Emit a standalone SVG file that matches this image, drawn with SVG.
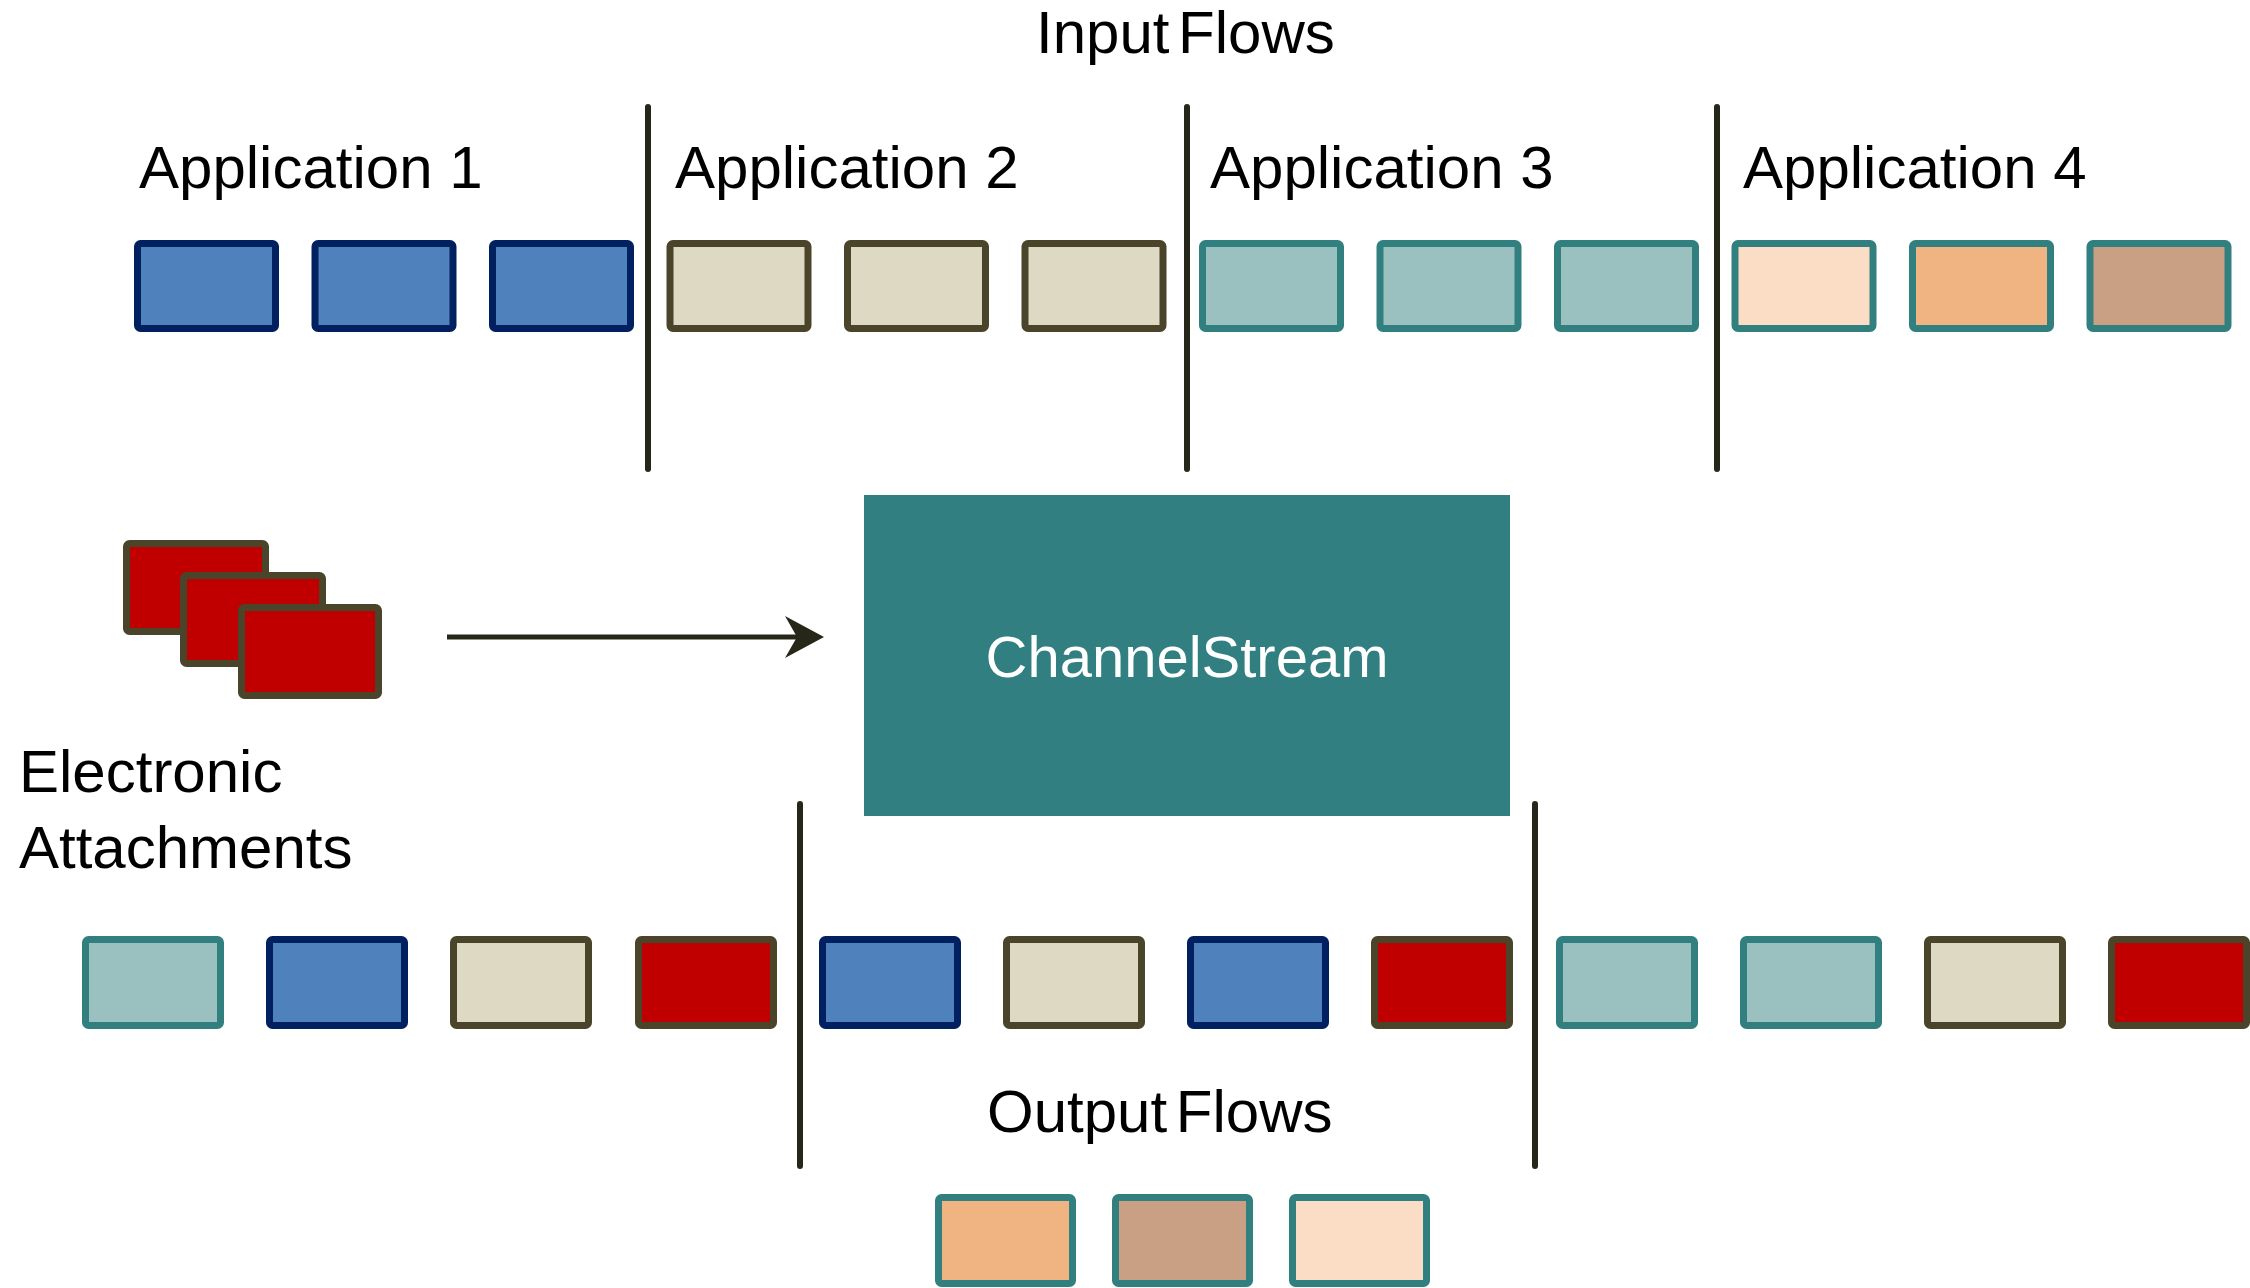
<svg xmlns="http://www.w3.org/2000/svg" width="2250" height="1288" viewBox="0 0 2250 1288">
<style>
text{font-family:"Liberation Sans",Arial,sans-serif;font-size:60px;fill:#000}
.tight{word-spacing:-8px}
.b{stroke-width:7;rx:3}
.blue{fill:#4F81BD;stroke:#002060}
.tan{fill:#DDD9C3;stroke:#4A452A}
.teal{fill:#9BC0C0;stroke:#31807F}
.peach{fill:#FADDC4;stroke:#31807F}
.orange{fill:#F0B482;stroke:#31807F}
.brown{fill:#C9A083;stroke:#31807F}
.red{fill:#C00000;stroke:#4A452A}
.div{stroke:#262619;stroke-width:6;stroke-linecap:round;fill:none}
</style>
<rect width="2250" height="1288" fill="#fff"/>
<g id="labels">
<text class="tight" x="1036" y="53">Input Flows</text>
<text x="139" y="188">Application 1</text>
<text x="675" y="188">Application 2</text>
<text x="1210" y="188">Application 3</text>
<text x="1743" y="188">Application 4</text>
<text x="19" y="792">Electronic</text>
<text x="19" y="868">Attachments</text>
<text class="tight" x="987" y="1132">Output Flows</text>
</g>
<g id="dividers">
<line class="div" x1="648" y1="107" x2="648" y2="469"/>
<line class="div" x1="1187" y1="107" x2="1187" y2="469"/>
<line class="div" x1="1717" y1="107" x2="1717" y2="469"/>
<line class="div" x1="800" y1="804" x2="800" y2="1166"/>
<line class="div" x1="1535" y1="804" x2="1535" y2="1166"/>
</g>
<g id="input-flows">
<rect class="b blue" x="137.5" y="243.5" width="138" height="85"/>
<rect class="b blue" x="315" y="243.5" width="138" height="85"/>
<rect class="b blue" x="492.5" y="243.5" width="138" height="85"/>
<rect class="b tan" x="670" y="243.5" width="138" height="85"/>
<rect class="b tan" x="847.5" y="243.5" width="138" height="85"/>
<rect class="b tan" x="1025" y="243.5" width="138" height="85"/>
<rect class="b teal" x="1202.5" y="243.5" width="138" height="85"/>
<rect class="b teal" x="1380" y="243.5" width="138" height="85"/>
<rect class="b teal" x="1557.5" y="243.5" width="138" height="85"/>
<rect class="b peach" x="1735" y="243.5" width="138" height="85"/>
<rect class="b orange" x="1912.5" y="243.5" width="138" height="85"/>
<rect class="b brown" x="2090" y="243.5" width="138" height="85"/>
</g>
<g id="electronic-attachments">
<rect class="b red" x="126.5" y="543.5" width="139" height="88"/>
<rect class="b red" x="183.5" y="575.5" width="139" height="88"/>
<rect class="b red" x="241.5" y="607.5" width="137" height="88"/>
</g>
<g id="channelstream">
<rect x="864" y="495" width="646" height="321" fill="#317F81"/>
<text x="1187" y="677" text-anchor="middle" style="fill:#fff;font-size:58px">ChannelStream</text>
</g>
<g id="output-flows">
<rect class="b teal" x="85.5" y="939.5" width="135" height="86"/>
<rect class="b blue" x="269.5" y="939.5" width="135" height="86"/>
<rect class="b tan" x="453.5" y="939.5" width="135" height="86"/>
<rect class="b red" x="638.5" y="939.5" width="135" height="86"/>
<rect class="b blue" x="822.5" y="939.5" width="135" height="86"/>
<rect class="b tan" x="1006.5" y="939.5" width="135" height="86"/>
<rect class="b blue" x="1190.5" y="939.5" width="135" height="86"/>
<rect class="b red" x="1374.5" y="939.5" width="135" height="86"/>
<rect class="b teal" x="1559.5" y="939.5" width="135" height="86"/>
<rect class="b teal" x="1743.5" y="939.5" width="135" height="86"/>
<rect class="b tan" x="1927.5" y="939.5" width="135" height="86"/>
<rect class="b red" x="2111.5" y="939.5" width="135" height="86"/>
</g>
<g id="output-flows-2">
<rect class="b orange" x="938.5" y="1197.5" width="134" height="86"/>
<rect class="b brown" x="1115.5" y="1197.5" width="134" height="86"/>
<rect class="b peach" x="1292.5" y="1197.5" width="134" height="86"/>
</g>
<g id="connectors">
<line x1="447" y1="637" x2="800" y2="637" stroke="#262619" stroke-width="5"/>
<path d="M824,637 L785,616 L797,637 L785,658 Z" fill="#262619"/>
</g>
</svg>
